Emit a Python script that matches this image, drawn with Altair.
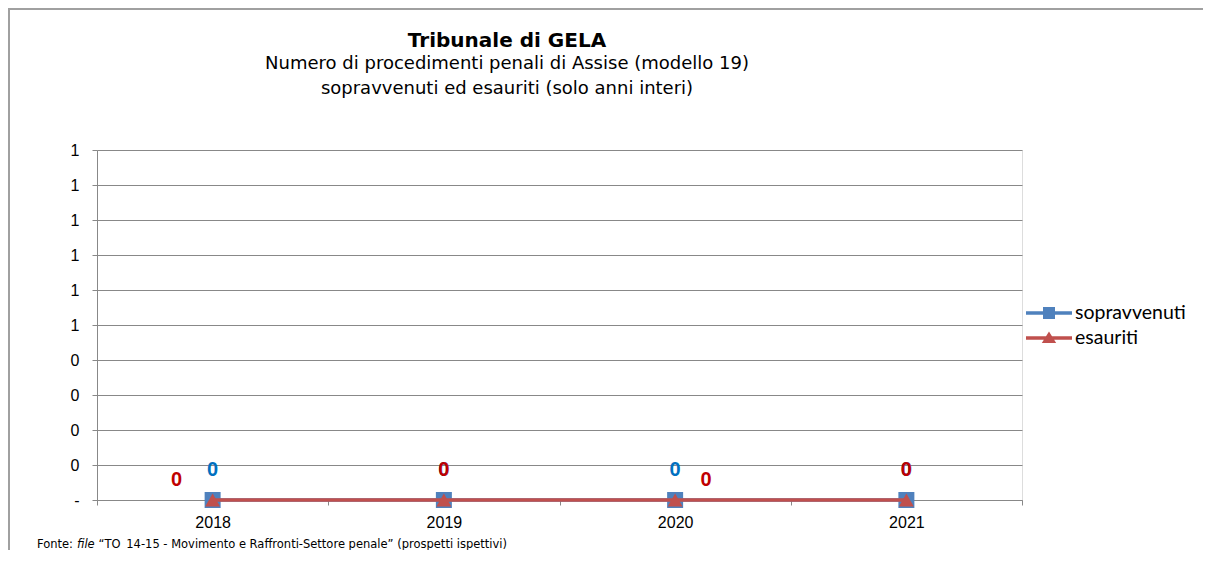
import altair as alt
import pandas as pd

# ---- data ----
years = ["2018", "2019", "2020", "2021"]
series = ["sopravvenuti", "esauriti"]
sopravvenuti = [0, 0, 0, 0]
esauriti = [0, 0, 0, 0]
# data-label placement per point (Excel-style label position)
label_pos_sopravvenuti = ["above", "above", "above", "above"]
label_pos_esauriti = ["left", "above", "right", "above"]
y_ticks = [0, 0.1, 0.2, 0.3, 0.4, 0.5, 0.6, 0.7, 0.8, 0.9, 1.0]

title_lines = [
    "Tribunale di GELA",
    "Numero di procedimenti penali di Assise (modello 19)",
    "sopravvenuti ed esauriti (solo anni interi)",
]
footer_parts = [
    "Fonte:",
    "file",
    "\u201cTO_14-15 - Movimento e Raffronti-Settore penale\u201d (prospetti ispettivi)",
]

line_colors = ["#4F81BD", "#C0504D"]
label_colors = ["#0070C0", "#C00000"]
marker_shapes = ["square", "triangle-up"]
legend_shapes = [
    "M-2.3,-0.175H2.3V0.175H-2.3Z M-0.6,-0.6H0.6V0.6H-0.6Z",
    "M-2.3,-0.175H2.3V0.175H-2.3Z M0,-0.65L0.72,0.5L-0.72,0.5Z",
]

rows = []
for s, vals, pos in [("sopravvenuti", sopravvenuti, label_pos_sopravvenuti),
                     ("esauriti", esauriti, label_pos_esauriti)]:
    for y, v, p in zip(years, vals, pos):
        rows.append({"anno": y, "serie": s, "valore": v, "pos": p})
df = pd.DataFrame(rows)

W, H = 925, 350
GRID = "#888888"
TXT_FONT = "DejaVu Sans"

x_enc = alt.X(
    "anno:N",
    scale=alt.Scale(type="band", domain=years, paddingInner=0, paddingOuter=0),
    bandPosition=0.5,
    axis=alt.Axis(
        title=None, tickBand="extent", tickSize=5, tickColor=GRID, domainColor=GRID,
        labelFont="Liberation Sans", labelFontSize=16, labelColor="#000000",
        labelPadding=9, labelAngle=0, grid=False,
    ),
)
y_enc = alt.Y(
    "valore:Q",
    scale=alt.Scale(domain=[0, 1], nice=False),
    axis=alt.Axis(
        title=None, values=y_ticks, tickSize=5, tickColor=GRID, domainColor=GRID,
        grid=True, gridColor=GRID, gridWidth=1,
        labelFont="Liberation Sans", labelFontSize=16, labelColor="#000000",
        labelPadding=13,
        labelExpr="datum.value == 0 ? '-' : '' + round(datum.value)",
    ),
)

base = alt.Chart(df)
deco = alt.Chart(pd.DataFrame({"k": [0]}))  # one row: decorations drawn once

# frame of the chart area (decoration)
frame = deco.mark_rect(fill=None, stroke="#a0a0a0", strokeWidth=2).encode(
    x=alt.value(-88), x2=alt.value(1250), y=alt.value(-141), y2=alt.value(480)
)

layers = [frame]

# title lines (text marks)
TX = 410
for txt, fs, fw, yb in zip(title_lines, [20, 18, 18], ["bold", "normal", "normal"],
                           [-103, -81, -56.5]):
    layers.append(deco.mark_text(text=txt, font=TXT_FONT, fontSize=fs, fontWeight=fw,
                                 align="center", baseline="alphabetic", color="#000000")
                  .encode(x=alt.value(TX), y=alt.value(yb)))

for s, c, shp, sz in zip(series, line_colors, marker_shapes, [256, 220]):
    sub = base.transform_filter(alt.datum.serie == s)
    layers.append(sub.mark_line(color=c, strokeWidth=3.5).encode(x=x_enc, y=y_enc))
    layers.append(sub.mark_point(shape=shp, filled=True, size=sz, color=c, opacity=1)
                  .encode(x=x_enc, y=y_enc))

offsets = {"above": (0, -30), "left": (-36, -20), "right": (31, -20)}
for s, c in zip(series, label_colors):
    for p, (dx, dy) in offsets.items():
        layers.append(
            base.transform_filter((alt.datum.serie == s) & (alt.datum.pos == p))
            .mark_text(font="Liberation Sans", fontSize=20, fontWeight="bold",
                       color=c, dx=dx, dy=dy, baseline="middle", align="center")
            .encode(x=x_enc, y=y_enc, text=alt.Text("valore:Q", format=".0f"))
        )

# legend driver (no visible marks, legend from explicit scale domains)
legend = alt.Legend(
    title=None, orient="none", legendX=942, legendY=153,
    symbolSize=400, symbolStrokeWidth=0, labelFont="Lato", labelFontSize=19.5,
    labelColor="#000000", labelOffset=16, rowPadding=5, padding=0,
)
legend_layer = base.transform_filter("false").mark_point(filled=True, opacity=1).encode(
    color=alt.Color("serie:N", scale=alt.Scale(domain=series, range=line_colors), legend=legend),
    shape=alt.Shape("serie:N", scale=alt.Scale(domain=series, range=legend_shapes), legend=legend),
)
layers.append(legend_layer)

# footer note
foot_y = 395
for txt, xx, st in zip(footer_parts, [-60, -20, 1.5], ["normal", "italic", "normal"]):
    layers.append(deco.mark_text(text=txt, font=TXT_FONT, fontSize=11.5, fontStyle=st,
                                 align="left", baseline="middle", color="#000000")
                  .encode(x=alt.value(xx), y=alt.value(foot_y)))

chart = alt.layer(*layers).resolve_scale(color="independent", shape="independent").properties(
    width=W, height=H,
    autosize=alt.AutoSizeParams(type="none"),
    padding={"left": 89, "top": 142, "right": 181, "bottom": 50},
).configure_view(stroke=None).configure(background="white")

chart.save("out.html", embed_options={"renderer": "svg", "actions": False})
